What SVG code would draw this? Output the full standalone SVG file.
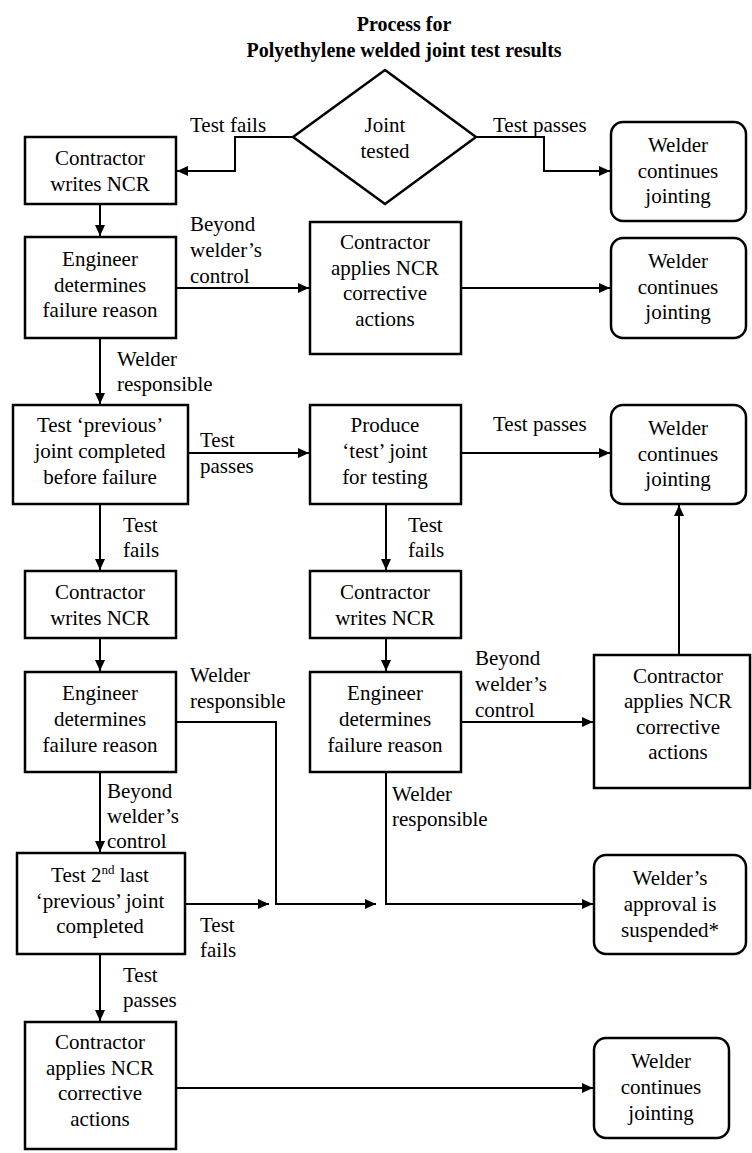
<svg xmlns="http://www.w3.org/2000/svg" width="752" height="1153" viewBox="0 0 752 1153" font-family="Liberation Serif, Times New Roman, serif">
<style>
text{font-family:"Liberation Serif","Times New Roman",Times,serif}
.t{font-size:21px;text-anchor:middle;fill:#000}
.l{font-size:21px;fill:#000}
.h{font-size:20px;font-weight:bold;text-anchor:middle;fill:#000}
.b{fill:#fff;stroke:#000;stroke-width:2.5}
.c{fill:none;stroke:#000;stroke-width:2}
</style>
<defs>
<marker id="ah" markerUnits="userSpaceOnUse" markerWidth="12" markerHeight="10" refX="11" refY="5" orient="auto">
<path d="M0,0 L11,5 L0,10 z" fill="#000"/>
</marker>
</defs>
<rect width="752" height="1153" fill="#fff"/>
<g id="title">
<text class="h" x="404" y="31" font-family="Liberation Serif">Process for</text>
<text class="h" x="404" y="57" font-family="Liberation Serif">Polyethylene welded joint test results</text>
</g>
<g id="connectors">
<polyline class="c" points="293,137 235,137 235,171 177,171" marker-end="url(#ah)"/>
<polyline class="c" points="476,137 544,137 544,171 610,171" marker-end="url(#ah)"/>
<line class="c" x1="100" y1="204" x2="100" y2="236" marker-end="url(#ah)"/>
<line class="c" x1="176" y1="288" x2="309" y2="288" marker-end="url(#ah)"/>
<line class="c" x1="461" y1="288" x2="610" y2="288" marker-end="url(#ah)"/>
<line class="c" x1="100" y1="338" x2="100" y2="404" marker-end="url(#ah)"/>
<line class="c" x1="188" y1="453" x2="309" y2="453" marker-end="url(#ah)"/>
<line class="c" x1="461" y1="453" x2="610" y2="453" marker-end="url(#ah)"/>
<line class="c" x1="100" y1="504" x2="100" y2="570" marker-end="url(#ah)"/>
<line class="c" x1="386" y1="504" x2="386" y2="570" marker-end="url(#ah)"/>
<line class="c" x1="679" y1="655" x2="679" y2="505" marker-end="url(#ah)"/>
<line class="c" x1="100" y1="638" x2="100" y2="671" marker-end="url(#ah)"/>
<line class="c" x1="386" y1="638" x2="386" y2="671" marker-end="url(#ah)"/>
<line class="c" x1="461" y1="722" x2="593" y2="722" marker-end="url(#ah)"/>
<polyline class="c" points="176,722 276,722 276,904 376,904" marker-end="url(#ah)"/>
<polyline class="c" points="386,772 386,904 593,904" marker-end="url(#ah)"/>
<line class="c" x1="100" y1="772" x2="100" y2="852" marker-end="url(#ah)"/>
<line class="c" x1="185" y1="904" x2="269" y2="904" marker-end="url(#ah)"/>
<line class="c" x1="100" y1="954" x2="100" y2="1021" marker-end="url(#ah)"/>
<line class="c" x1="176" y1="1088" x2="593" y2="1088" marker-end="url(#ah)"/>
<g id="labels">
<text class="l" x="190" y="132">Test fails</text>
<text class="l" x="493" y="132">Test passes</text>
<text class="l" x="190" y="231">Beyond</text>
<text class="l" x="190" y="257">welder’s</text>
<text class="l" x="190" y="283">control</text>
<text class="l" x="117" y="366">Welder</text>
<text class="l" x="117" y="391">responsible</text>
<text class="l" x="200" y="447">Test</text>
<text class="l" x="200" y="473">passes</text>
<text class="l" x="493" y="431">Test passes</text>
<text class="l" x="123" y="532">Test</text>
<text class="l" x="123" y="557">fails</text>
<text class="l" x="408" y="532">Test</text>
<text class="l" x="408" y="557">fails</text>
<text class="l" x="190" y="682">Welder</text>
<text class="l" x="190" y="708">responsible</text>
<text class="l" x="475" y="665">Beyond</text>
<text class="l" x="475" y="691">welder’s</text>
<text class="l" x="475" y="717">control</text>
<text class="l" x="107" y="798">Beyond</text>
<text class="l" x="107" y="823">welder’s</text>
<text class="l" x="107" y="848">control</text>
<text class="l" x="392" y="801">Welder</text>
<text class="l" x="392" y="826">responsible</text>
<text class="l" x="200" y="932">Test</text>
<text class="l" x="200" y="957">fails</text>
<text class="l" x="123" y="982">Test</text>
<text class="l" x="123" y="1007">passes</text>
</g>
</g>
<g id="n_joint">
<polygon class="b" points="385,70 476,137 385,204 293,137"/>
<text class="t" x="385" y="132">Joint</text>
<text class="t" x="385" y="158">tested</text>
</g>
<g id="n_ncr1">
<rect class="b" x="25" y="137" width="151" height="67"/>
<text class="t" x="100" y="165">Contractor</text>
<text class="t" x="100" y="191">writes NCR</text>
</g>
<g id="n_wc1">
<rect class="b" x="611" y="122" width="135" height="99" rx="12"/>
<text class="t" x="678" y="152">Welder</text>
<text class="t" x="678" y="178">continues</text>
<text class="t" x="678" y="203">jointing</text>
</g>
<g id="n_eng1">
<rect class="b" x="25" y="237" width="151" height="101"/>
<text class="t" x="100" y="266">Engineer</text>
<text class="t" x="100" y="292">determines</text>
<text class="t" x="100" y="317">failure reason</text>
</g>
<g id="n_app1">
<rect class="b" x="310" y="222" width="151" height="132"/>
<text class="t" x="385" y="249">Contractor</text>
<text class="t" x="385" y="275">applies NCR</text>
<text class="t" x="385" y="300">corrective</text>
<text class="t" x="385" y="326">actions</text>
</g>
<g id="n_wc2">
<rect class="b" x="611" y="238" width="135" height="100" rx="12"/>
<text class="t" x="678" y="268">Welder</text>
<text class="t" x="678" y="294">continues</text>
<text class="t" x="678" y="319">jointing</text>
</g>
<g id="n_prev">
<rect class="b" x="13" y="405" width="175" height="99"/>
<text class="t" x="100" y="432">Test ‘previous’</text>
<text class="t" x="100" y="458">joint completed</text>
<text class="t" x="100" y="484">before failure</text>
</g>
<g id="n_produce">
<rect class="b" x="310" y="405" width="151" height="99"/>
<text class="t" x="385" y="432">Produce</text>
<text class="t" x="385" y="458">‘test’ joint</text>
<text class="t" x="385" y="484">for testing</text>
</g>
<g id="n_wc3">
<rect class="b" x="611" y="405" width="135" height="99" rx="12"/>
<text class="t" x="678" y="435">Welder</text>
<text class="t" x="678" y="461">continues</text>
<text class="t" x="678" y="486">jointing</text>
</g>
<g id="n_ncr2">
<rect class="b" x="25" y="571" width="151" height="67"/>
<text class="t" x="100" y="599">Contractor</text>
<text class="t" x="100" y="625">writes NCR</text>
</g>
<g id="n_ncr3">
<rect class="b" x="310" y="571" width="151" height="67"/>
<text class="t" x="385" y="599">Contractor</text>
<text class="t" x="385" y="625">writes NCR</text>
</g>
<g id="n_eng2">
<rect class="b" x="25" y="672" width="151" height="100"/>
<text class="t" x="100" y="700">Engineer</text>
<text class="t" x="100" y="726">determines</text>
<text class="t" x="100" y="752">failure reason</text>
</g>
<g id="n_eng3">
<rect class="b" x="310" y="672" width="151" height="100"/>
<text class="t" x="385" y="700">Engineer</text>
<text class="t" x="385" y="726">determines</text>
<text class="t" x="385" y="752">failure reason</text>
</g>
<g id="n_app2">
<rect class="b" x="594" y="655" width="156" height="133"/>
<text class="t" x="678" y="683">Contractor</text>
<text class="t" x="678" y="708">applies NCR</text>
<text class="t" x="678" y="734">corrective</text>
<text class="t" x="678" y="759">actions</text>
</g>
<g id="n_second">
<rect class="b" x="17" y="853" width="168" height="101"/>
<text class="t" x="100" y="882">Test 2<tspan font-size="13" dy="-8">nd</tspan><tspan dy="8"> last</tspan></text>
<text class="t" x="100" y="908">‘previous’ joint</text>
<text class="t" x="100" y="933">completed</text>
</g>
<g id="n_susp">
<rect class="b" x="594" y="855" width="152" height="99" rx="12"/>
<text class="t" x="670" y="885">Welder’s</text>
<text class="t" x="670" y="911">approval is</text>
<text class="t" x="670" y="937">suspended*</text>
</g>
<g id="n_app3">
<rect class="b" x="25" y="1022" width="151" height="127"/>
<text class="t" x="100" y="1049">Contractor</text>
<text class="t" x="100" y="1075">applies NCR</text>
<text class="t" x="100" y="1100">corrective</text>
<text class="t" x="100" y="1126">actions</text>
</g>
<g id="n_wc4">
<rect class="b" x="594" y="1038" width="135" height="100" rx="12"/>
<text class="t" x="661" y="1068">Welder</text>
<text class="t" x="661" y="1094">continues</text>
<text class="t" x="661" y="1120">jointing</text>
</g>
</svg>
